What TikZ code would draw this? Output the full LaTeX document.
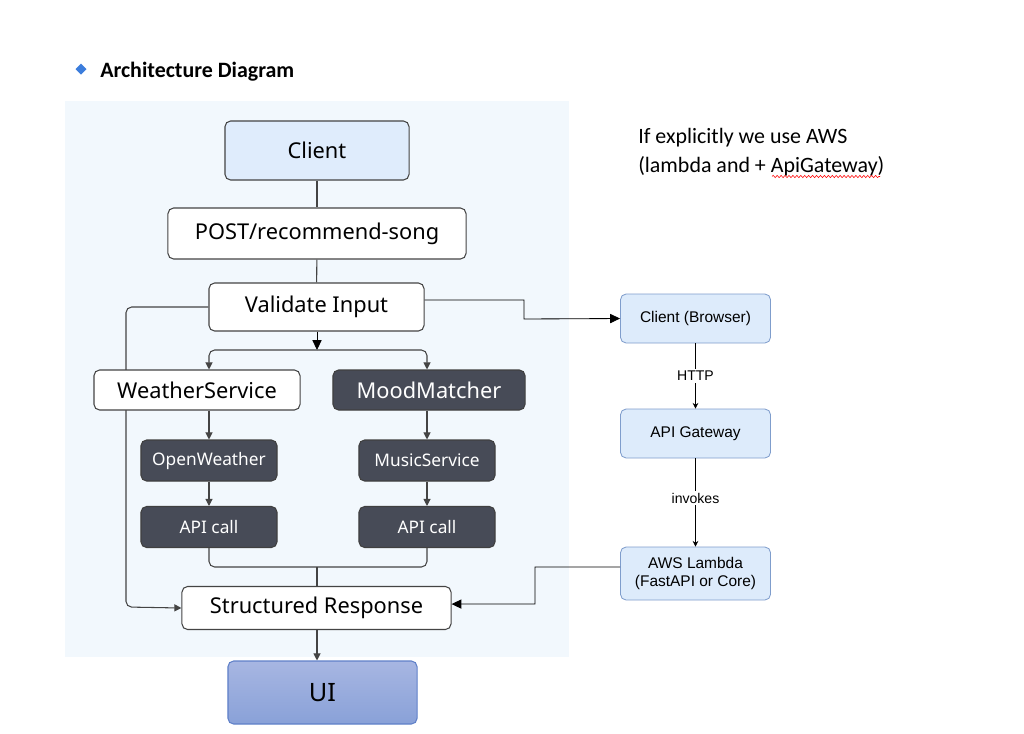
\documentclass[tikz,border=0pt]{standalone}
\usepackage{fontspec}
\setmainfont{Noto Sans}
\newfontfamily\calfont{Carlito}
\newfontfamily\arialfont{Liberation Sans}
\usetikzlibrary{arrows.meta, positioning, backgrounds, decorations.pathmorphing}

\definecolor{bgblue}{HTML}{F2F8FD}
\definecolor{clientblue}{HTML}{DFECFC}
\definecolor{darkfill}{HTML}{474B57}
\definecolor{edgegray}{HTML}{444444}
\definecolor{awsblue}{HTML}{DDEBFB}
\definecolor{awsedge}{HTML}{7F9DCC}
\definecolor{uitop}{HTML}{A7B6E2}
\definecolor{uibot}{HTML}{89A1D8}
\definecolor{uiedge}{HTML}{5F80C8}
\definecolor{bullet}{HTML}{3C7DDC}

\begin{document}
\begin{tikzpicture}[x=0.025cm, y=-0.025cm,
    box/.style={draw=edgegray, line width=0.75pt, rounded corners=4pt, inner sep=0pt},
    litebox/.style={box, fill=white, font=\fontsize{15.5}{18}\selectfont},
    darkbox/.style={box, fill=darkfill, draw=black!75, text=white,
      font=\fontsize{12.3}{14}\selectfont, minimum width=3.4cm, minimum height=1.025cm},
    awsbox/.style={draw=awsedge, fill=awsblue, line width=0.6pt, rounded corners=4pt,
      inner sep=0pt, minimum width=3.75cm, minimum height=1.225cm, align=center,
      font=\arialfont\fontsize{11}{13}\selectfont},
    line/.style={draw=edgegray, line width=0.75pt},
    arr/.style={line, -{Triangle[length=5pt, width=5pt]}},
    bigarr/.style={black, line width=0.6pt, -{Triangle[length=7pt, width=6.5pt]}},
    awsarr/.style={black, line width=0.5pt, -{Stealth[length=4pt, width=4pt]}},
    lbl/.style={fill=white, inner sep=1.5pt, font=\arialfont\fontsize{10}{12}\selectfont}]
  \useasboundingbox (0,0) rectangle (1024,733);

  % heading
  \fill[bullet] (81,63.5) -- (86.5,69) -- (81,74.5) -- (75.5,69) -- cycle;
  \node[anchor=base west, inner sep=0pt, font=\calfont\bfseries\fontsize{15.6}{18}\selectfont] (title) at (100,77) {Architecture Diagram};

  % main flow
  \node[box, fill=clientblue, minimum width=4.6cm, minimum height=1.475cm, font=\fontsize{15.5}{18}\selectfont] (client) at (317,150.5) {Client};
  \node[litebox, minimum width=7.45cm, minimum height=1.275cm] (post) at (317,233.5) {POST/recommend-song};
  \node[litebox, minimum width=5.375cm, minimum height=1.2cm] (valid) at (316.5,307) {Validate Input};
  \node[litebox, minimum width=5.15cm, minimum height=1cm] (ws) at (197,390) {WeatherService};
  \node[box, fill=darkfill, draw=black!75, text=white, font=\fontsize{15.5}{18}\selectfont, minimum width=4.8cm, minimum height=1cm] (mm) at (429,390) {MoodMatcher};
  \node[darkbox] (ow) at (209,460.5) {OpenWeather};
  \node[darkbox] (ms) at (427,460.5) {MusicService};
  \node[darkbox] (apil) at (209,527) {API call};
  \node[darkbox] (apir) at (427,527) {API call};
  \node[litebox, minimum width=6.725cm, minimum height=1.075cm] (resp) at (316.5,608) {Structured Response};
  \node[box, draw=uiedge, top color=uitop, bottom color=uibot, minimum width=4.725cm, minimum height=1.575cm, font=\fontsize{18}{21}\selectfont] (ui) at (322.5,692.5) {UI};

  \coordinate (split) at (317,350);
  \coordinate (join) at (317,567);

  \begin{scope}[on background layer]
    \fill[bgblue] (65,101) rectangle (569,657);
    \draw[arr, rounded corners=4pt] (valid.west) -| (126,607) -- (resp.west);
  \end{scope}

  \draw[line] (client) -- (post);
  \draw[line] (post) -- (valid);
  \draw[bigarr] (valid.south -| split) -- (split);
  \draw[arr, rounded corners=4pt] (split) -| (ws.north -| ow);
  \draw[arr, rounded corners=4pt] (split) -| (mm.north -| ms);
  \draw[arr] (ws.south -| ow) -- (ow);
  \draw[arr] (mm.south -| ms) -- (ms);
  \draw[arr] (ow) -- (apil);
  \draw[arr] (ms) -- (apir);
  \draw[line, rounded corners=4pt] (apil) |- (join) -| (apir);
  \draw[line] (join) -- (resp.north -| join);
  \draw[arr] (resp.south -| join) -- (ui.north -| join);

  % AWS variant
  \node[anchor=base west, inner sep=0pt, font=\calfont\fontsize{15.6}{18}\selectfont] (note1) at (638,143) {If explicitly we use AWS};
  \node[anchor=base west, inner sep=0pt, font=\calfont\fontsize{15.6}{18}\selectfont] (note2) at (638,172) {(lambda and + ApiGateway)};
  \draw[red, line width=0.4pt, decorate, decoration={snake, amplitude=0.8pt, segment length=2.8pt}] (772,176.5) -- (880,176.5);

  \node[awsbox] (browser) at (695.5,318.5) {Client (Browser)};
  \node[awsbox] (gateway) at (695.5,433.5) {API Gateway};
  \node[awsbox, minimum height=1.325cm] (lambda) at (695.5,573.5) {AWS Lambda\\(FastAPI or Core)};

  \draw[awsarr] (browser) -- node[lbl] {HTTP} (gateway);
  \draw[awsarr] (gateway) -- node[lbl, pos=0.45] {invokes} (lambda);
  \draw[bigarr] ([yshift=5pt]valid.east) -| (524,319) -- (browser.west);
  \draw[bigarr] ([yshift=4.6pt]lambda.west) -| (535,604) -- ([yshift=2.8pt]resp.east);
\end{tikzpicture}
\end{document}
